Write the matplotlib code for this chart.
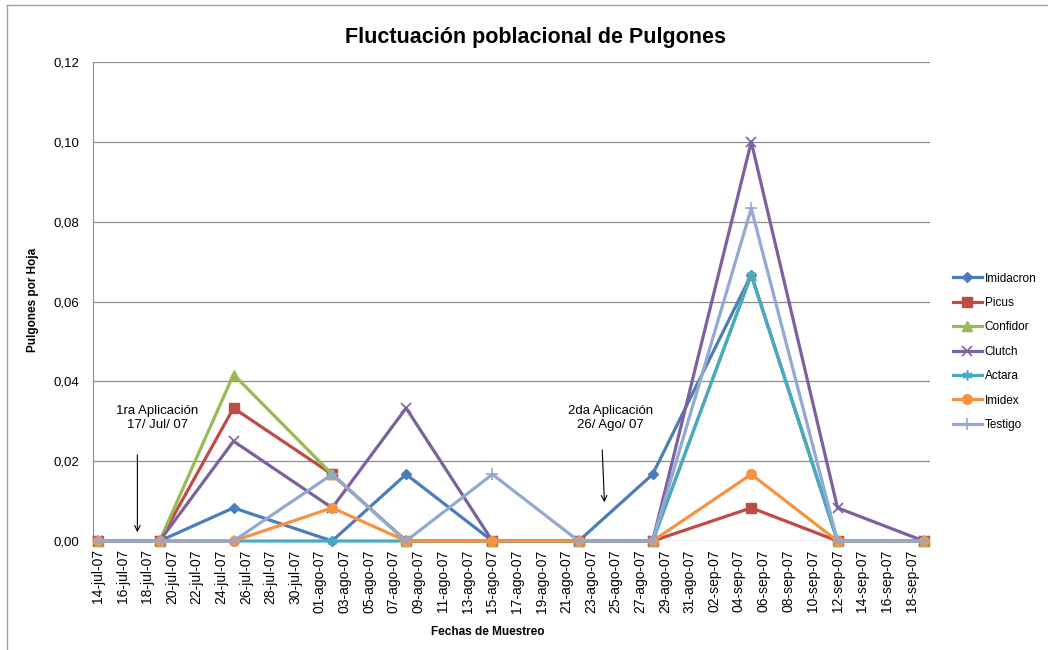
import datetime as dt

import numpy as np
import matplotlib
matplotlib.use("Agg")
import matplotlib.pyplot as plt
import matplotlib.dates as mdates
from matplotlib.lines import Line2D

plt.rcParams['font.family'] = ['Liberation Sans', 'DejaVu Sans']

# sampling dates
fechas = [
  dt.date(2007, 7, 14), dt.date(2007, 7, 19), dt.date(2007, 7, 25),
  dt.date(2007, 8, 2), dt.date(2007, 8, 8), dt.date(2007, 8, 15),
  dt.date(2007, 8, 22), dt.date(2007, 8, 28), dt.date(2007, 9, 5),
  dt.date(2007, 9, 12), dt.date(2007, 9, 19)
]

imidacron = [0, 0, 0.0083, 0, 0.0167, 0, 0, 0.0167, 0.0667, 0, 0]
picus     = [0, 0, 0.0333, 0.0167, 0, 0, 0, 0, 0.0083, 0, 0]
confidor  = [0, 0, 0.0417, 0.0167, 0, 0, 0, 0, 0.0667, 0, 0]
clutch    = [0, 0, 0.025, 0.0083, 0.0333, 0, 0, 0, 0.1, 0.0083, 0]
actara    = [0, 0, 0, 0, 0, 0, 0, 0, 0.0667, 0, 0]
imidex    = [0, 0, 0, 0.0083, 0, 0, 0, 0, 0.0167, 0, 0]
testigo   = [0, 0, 0, 0.0167, 0, 0.0167, 0, 0, 0.0833, 0, 0]

series_names = ["Imidacron", "Picus", "Confidor", "Clutch", "Actara", "Imidex", "Testigo"]
series_data = [imidacron, picus, confidor, clutch, actara, imidex, testigo]

MESES = {7: "jul", 8: "ago", 9: "sep"}

# colours / markers (Excel 2007 look)
COLORS = ['#4A7EBB', '#BE4B48', '#98B954', '#7D60A0', '#46AAC5', '#F69240', '#93A9D1']
MARKERS = ['D', 's', '^', 'x', (6, 2, 0), 'o', '+']
MSIZE = [5, 6.5, 6.5, 7, 7, 7, 8]


def fecha_fmt(x, pos=None):
  d = mdates.num2date(x)
  return "{:02d}-{}-07".format(d.day, MESES.get(d.month, ""))


def main():
  fig = plt.figure(figsize=(10.48, 6.5), dpi=100, facecolor='w')
  ax = fig.add_axes([93 / 1048, 109 / 650, 837 / 1048, 479 / 650])

  x = mdates.date2num(fechas)
  for name, vals, c, m, ms in zip(series_names, series_data, COLORS, MARKERS, MSIZE):
    ax.plot(x, vals, color=c, linewidth=2.3, marker=m, markersize=ms,
            markeredgecolor=c, markerfacecolor=c, markeredgewidth=1.2 if m in ('x', '+') or isinstance(m, tuple) else 1,
            label=name, clip_on=False, zorder=3)

  x0 = mdates.date2num(dt.date(2007, 7, 14))
  ax.set_xlim(x0 - 0.4, x0 + 67.5)
  ax.set_ylim(0, 0.12)

  ticks = [x0 + 2 * i for i in range(34)]
  ax.set_xticks(ticks)
  ax.xaxis.set_major_formatter(matplotlib.ticker.FuncFormatter(fecha_fmt))
  plt.setp(ax.get_xticklabels(), rotation=90, fontsize=10)
  ax.set_yticks(np.arange(0, 0.121, 0.02))
  ax.set_yticklabels(["{:.2f}".format(v).replace(".", ",") for v in np.arange(0, 0.121, 0.02)], fontsize=9.5)
  ax.tick_params(axis='both', length=0, pad=6)
  ax.tick_params(axis='y', pad=10)

  ax.grid(axis='y', color='#8C8C8C', linewidth=0.9)
  ax.set_axisbelow(True)
  for s in ['top', 'right', 'bottom']:
    ax.spines[s].set_visible(False)
  ax.spines['left'].set_color('#8C8C8C')

  fig.text(0.511, 0.943, "Fluctuación poblacional de Pulgones", ha='center', va='center',
           fontsize=15.5, fontweight='bold')
  fig.text(33 / 1048, 1 - 300 / 650, "Pulgones por Hoja", rotation=90, ha='center', va='center',
           fontsize=8.5, fontweight='bold')
  fig.text(488 / 1048, 1 - 632 / 650, "Fechas de Muestreo", ha='center', va='center',
           fontsize=8.5, fontweight='bold')

  # application annotations
  ax.text(x0 + 4.8, 0.0308, "1ra Aplicación\n17/ Jul/ 07", ha='center', va='center',
          fontsize=9.5, linespacing=1.3)
  ax.annotate("", xy=(x0 + 3.2, 0.0015), xytext=(x0 + 3.2, 0.0223),
              arrowprops=dict(arrowstyle='->', color='k', lw=0.8))
  ax.text(x0 + 41.6, 0.0308, "2da Aplicación\n26/ Ago/ 07", ha='center', va='center',
          fontsize=9.5, linespacing=1.3)
  ax.annotate("", xy=(x0 + 41.1, 0.009), xytext=(x0 + 40.9, 0.0235),
              arrowprops=dict(arrowstyle='->', color='k', lw=0.8))

  ax.legend(loc='upper left', bbox_to_anchor=(942 / 1048, 1 - 262 / 650),
            bbox_transform=fig.transFigure, frameon=False, fontsize=8.5,
            handlelength=2.5, labelspacing=1.05, handletextpad=0.2)

  # chart border
  fig.add_artist(Line2D([7 / 1048, 7 / 1048], [0, 1 - 5 / 650], color='#A0A0A0', lw=1))
  fig.add_artist(Line2D([7 / 1048, 1], [1 - 5 / 650, 1 - 5 / 650], color='#A0A0A0', lw=1))

  fig.savefig("out.png", dpi=100)
  plt.close()


if __name__ == "__main__":
  main()
